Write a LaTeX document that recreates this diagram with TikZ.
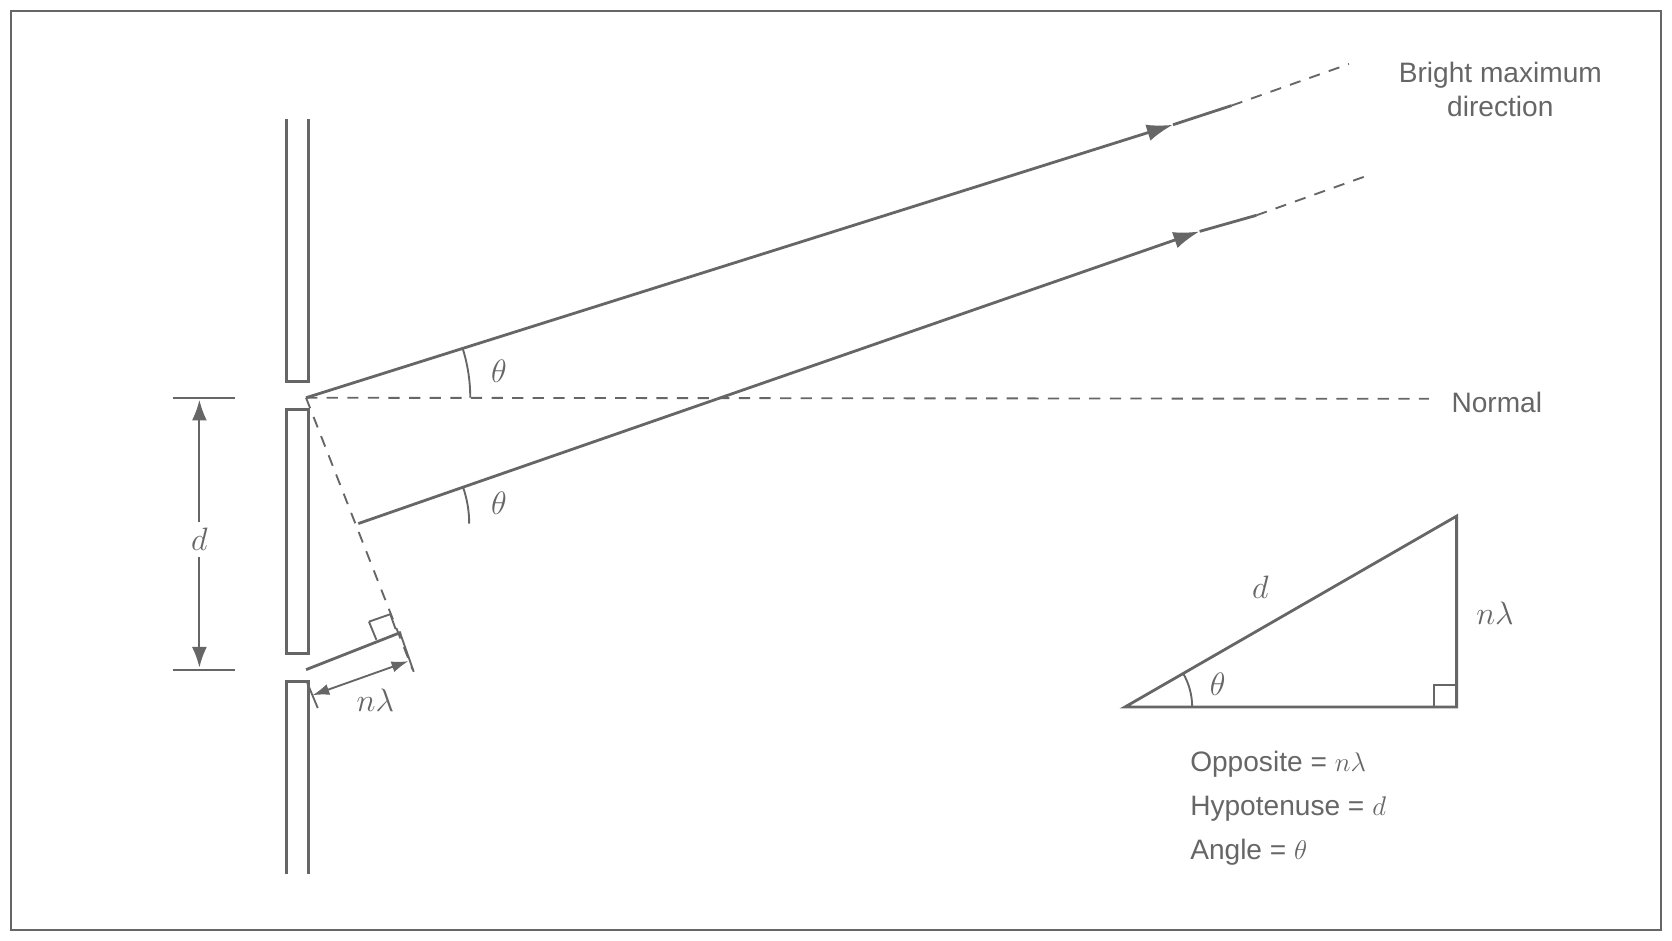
\documentclass[tikz,border=0pt]{standalone}
\usepackage{fontspec}
\setmainfont{Liberation Sans}
\usetikzlibrary{arrows.meta,calc}
\definecolor{ink}{HTML}{666666}
\begin{document}
\begin{tikzpicture}[x=0.02cm,y=-0.02cm,
  ln/.style={draw=ink,line width=1.5pt},
  dsh/.style={draw=ink,line width=1pt,dash pattern=on 6pt off 5pt},
  thin/.style={draw=ink,line width=1pt},
  lbl/.style={text=ink,font=\fontsize{15}{18}\selectfont},
  mth/.style={text=ink,font=\fontsize{18}{20}\selectfont},
  arr/.style={-{Latex[length=14pt,width=9pt]}}]
\useasboundingbox (0,0) rectangle (1568,882);
\draw[ink,line width=1pt] (10,10) rectangle (1558,872);
% barrier
\draw[ln] (269,112) -- (269,358) -- (289,358) -- (289,112);
\draw[ln] (269,384) rectangle (289,613);
\draw[ln] (269,820) -- (269,639) -- (289,639) -- (289,820);
% points
\coordinate (A) at (287,373);
\coordinate (B) at (336,491);
\coordinate (E) at (387,628);
\coordinate (C) at (287,628);
\coordinate (F) at (376,593);
% rays
\coordinate (a1) at (1100,117); \coordinate (a2) at (1155,99); \coordinate (a3) at (1265,60);
\coordinate (b1) at (1125,217); \coordinate (b2) at (1178,202); \coordinate (b3) at (1287,163);
\draw[ln,arr] (A) -- (a1);
\draw[ln] (a1) -- (a2);
\draw[dsh] (a2) -- (a3);
\draw[ln,arr] (B) -- (b1);
\draw[ln] (b1) -- (b2);
\draw[dsh] (b2) -- (b3);
\draw[ln] (C) -- (F);
% normal
\coordinate (N) at (1340,374);
\draw[dsh] (A) -- (N);
\node[lbl,anchor=west] (nl) at (1355,377) {Normal};
\node[lbl,align=center] (bm) at (1407,84) {Bright maximum\\direction};
% perpendicular dashed
\draw[dsh] (A) -- (E);
\draw[thin] (346,583) -- (366,576);
\draw[thin] (346,583) -- (353,600);
\draw[thin] (366,576) -- (371,590);
% n lambda dimension
\draw[thin] (375,593) -- (388,630);
\draw[thin] (288,640) -- (298,664);
\draw[thin,{Latex[length=9pt,width=6pt]}-{Latex[length=9pt,width=6pt]}] (293,652) -- (383,620);
\node[mth] (nla) at (352,657) {$n\lambda$};
% d dimension
\draw[thin] (162,373) -- (220,373);
\draw[thin] (162,628) -- (220,628);
\node[mth] (dl) at (187,506) {$d$};
\draw[thin,-{Latex[length=11pt,width=8pt]}] (dl.north) -- (187,375);
\draw[thin,-{Latex[length=11pt,width=8pt]}] (dl.south) -- (187,626);
% angle arcs
\draw[thin] (441,373) arc[start angle=0,end angle=-17.5,radius=154];
\node[mth] (t1) at (468,348) {$\theta$};
\draw[thin] (440,491) arc[start angle=0,end angle=-19,radius=104];
\node[mth] (t2) at (468,472) {$\theta$};
% triangle
\coordinate (P) at (1055,663); \coordinate (Q) at (1366,663); \coordinate (R) at (1366,484);
\draw[ln] (P) -- (Q) -- (R) -- cycle;
\draw[thin] (1345,663) -- (1345,642) -- (1366,642);
\draw[thin] (1118,663) arc[start angle=0,end angle=-30,radius=63];
\node[mth] (t3) at (1142,642) {$\theta$};
\node[mth] (td) at (1182,551) {$d$};
\node[mth] (tn) at (1402,575) {$n\lambda$};
\node[lbl,anchor=west] (o1) at (1110,717) {Opposite = $n\lambda$};
\node[lbl,anchor=west] (o2) at (1110,758) {Hypotenuse = $d$};
\node[lbl,anchor=west] (o3) at (1110,799) {Angle = $\theta$};
\end{tikzpicture}
\end{document}
